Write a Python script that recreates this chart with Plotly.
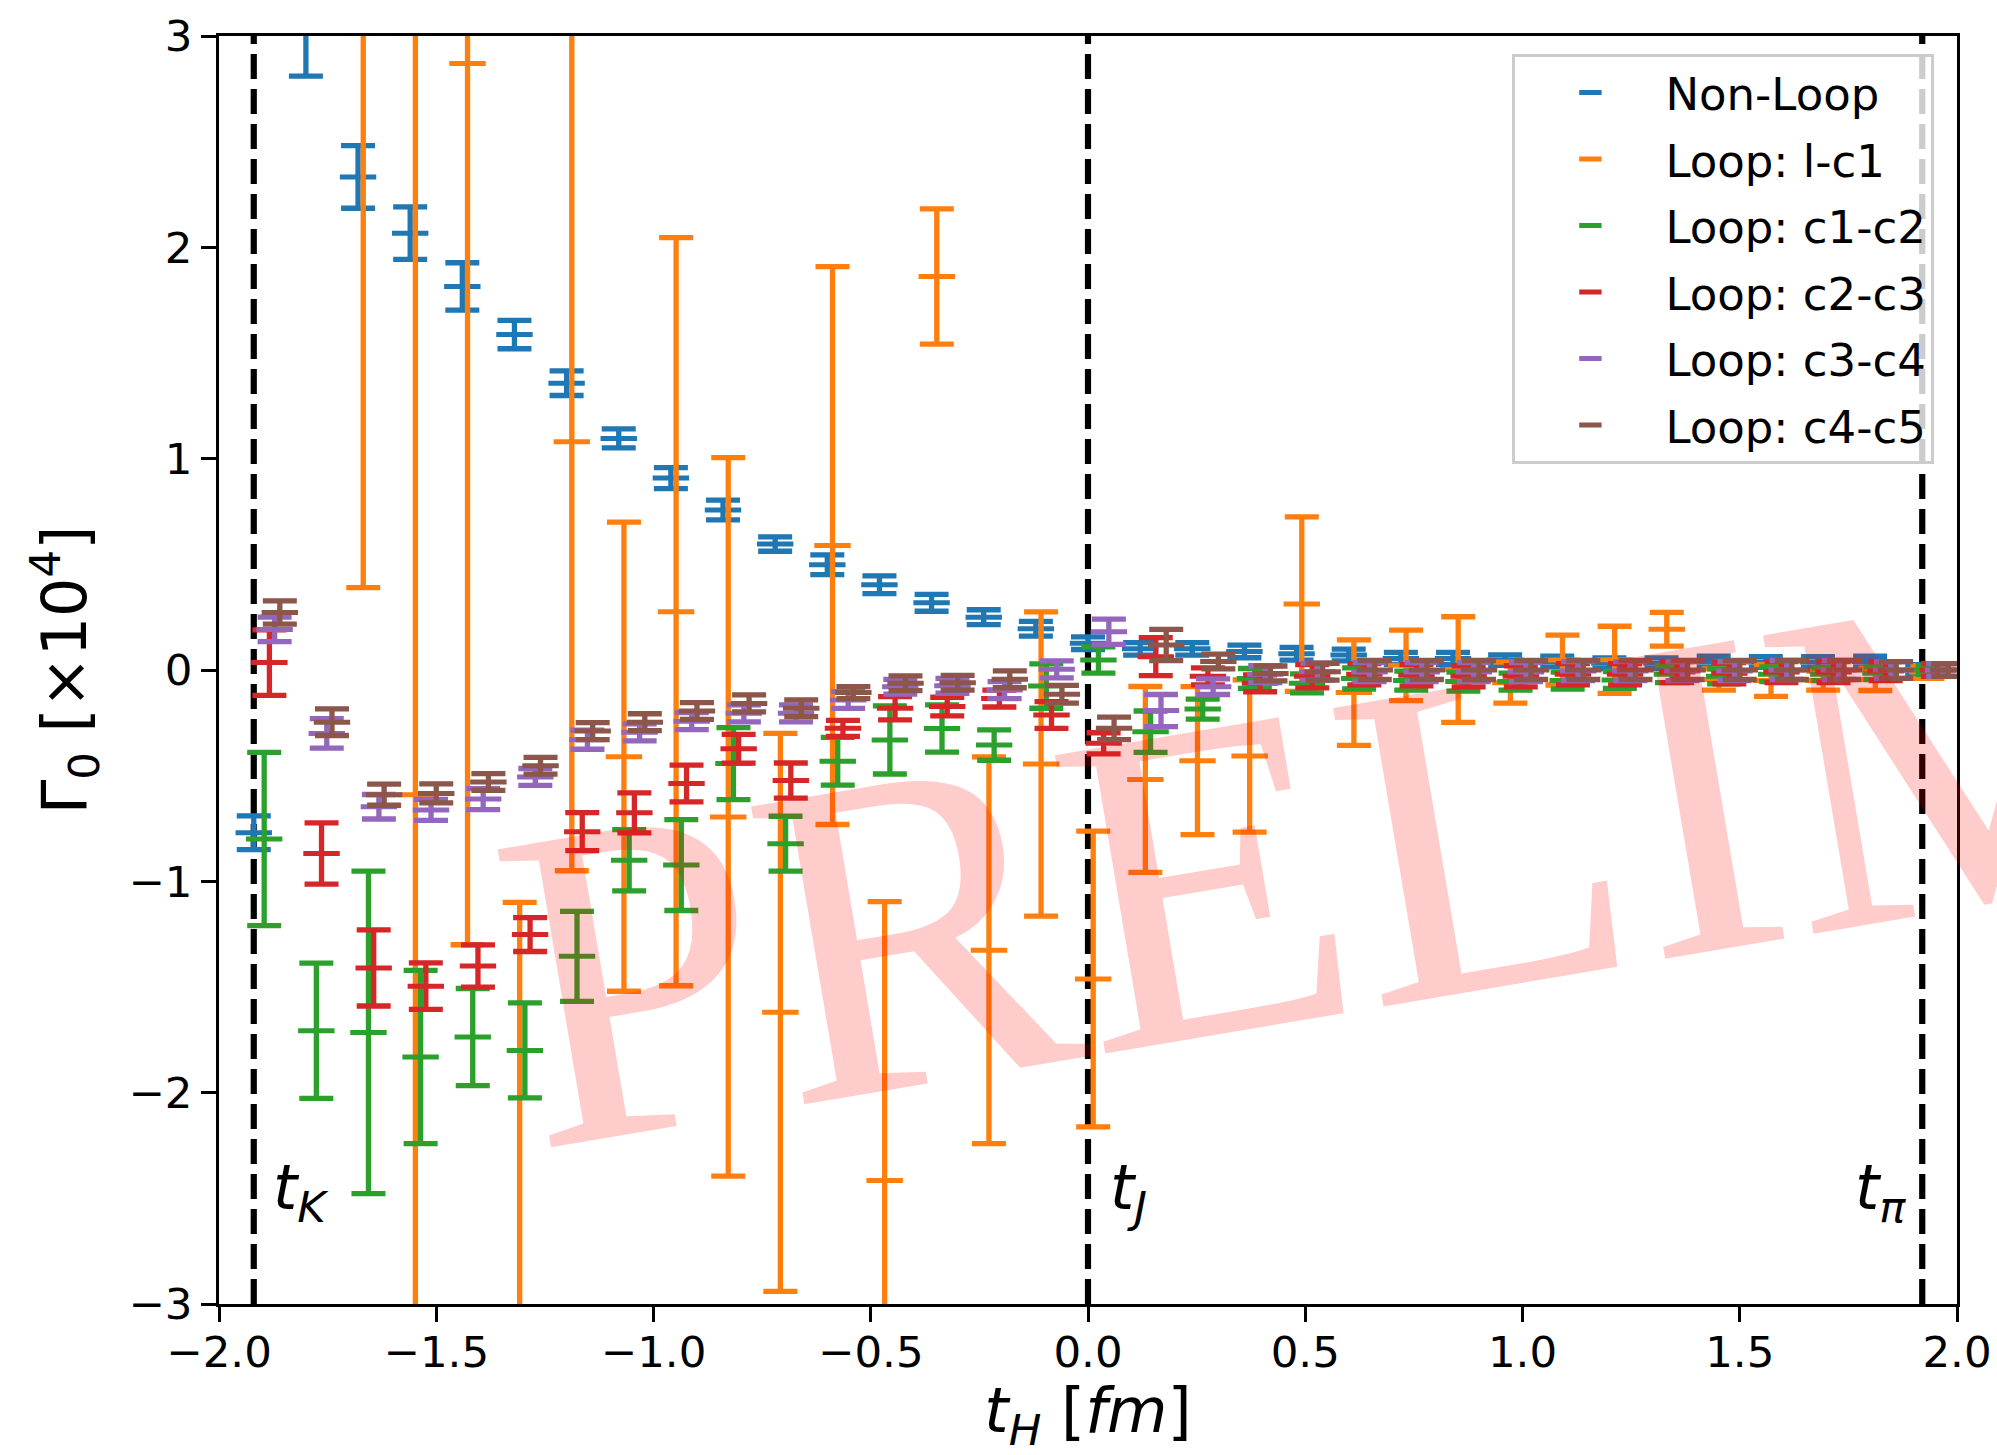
import plotly.graph_objects as go

# ---- data ----
t_H = [-1.92, -1.80, -1.68, -1.56, -1.44, -1.32, -1.20, -1.08, -0.96, -0.84, -0.72,
       -0.60, -0.48, -0.36, -0.24, -0.12, 0.00, 0.12, 0.24, 0.36, 0.48, 0.60, 0.72,
       0.84, 0.96, 1.08, 1.20, 1.32, 1.44, 1.56, 1.68, 1.80, 1.92]

series_names = ["Non-Loop", "Loop: l-c1", "Loop: c1-c2", "Loop: c2-c3", "Loop: c3-c4", "Loop: c4-c5"]

nonloop_val = [-0.77, 3.02, 2.333, 2.067, 1.815, 1.587, 1.357, 1.096, 0.908, 0.757, 0.596,
               0.498, 0.403, 0.318, 0.25, 0.195, 0.127, 0.10, 0.10, 0.088, 0.077, 0.071,
               0.055, 0.055, 0.047, 0.04, 0.032, 0.032, 0.04, 0.038, 0.038, 0.04, 0.0]
nonloop_err = [0.08, 0.21, 0.148, 0.124, 0.112, 0.067, 0.058, 0.045, 0.05, 0.047, 0.034,
               0.047, 0.042, 0.04, 0.035, 0.035, 0.03, 0.03, 0.03, 0.03, 0.03, 0.028,
               0.028, 0.028, 0.025, 0.025, 0.025, 0.025, 0.025, 0.025, 0.025, 0.025, 0.025]

lc1_val = [None, None, 3.55, -0.59, 2.87, -3.3, 1.08, -0.41, 0.276, -0.695, -1.62,
           0.589, -2.416, 1.862, -1.326, -0.445, -1.462, -0.518, -0.429, -0.407, 0.312,
           -0.107, 0.022, 0.002, -0.06, 0.047, 0.048, 0.193, -0.045, -0.05, -0.05, -0.045, -0.01]
lc1_err = [None, None, 3.16, 4.0, 4.17, 2.2, 2.03, 1.11, 1.77, 1.70, 1.32,
           1.32, 1.32, 0.32, 0.915, 0.72, 0.70, 0.44, 0.35, 0.36, 0.413,
           0.25, 0.167, 0.25, 0.097, 0.118, 0.159, 0.08, 0.05, 0.075, 0.045, 0.052, 0.03]

c1c2_val = [-0.80, -1.707, -1.715, -1.831, -1.737, -1.80, -1.355, -0.90, -0.923, -0.443, -0.822,
            -0.432, -0.331, -0.277, -0.355, -0.076, 0.047, -0.292, -0.185, -0.04, -0.063,
            -0.04, -0.05, -0.055, -0.055, -0.05, -0.047, -0.02, -0.03, -0.02, -0.02, -0.015, 0.0]
c1c2_err = [0.41, 0.32, 0.763, 0.41, 0.23, 0.225, 0.213, 0.145, 0.215, 0.17, 0.13,
            0.113, 0.161, 0.112, 0.072, 0.105, 0.062, 0.098, 0.047, 0.047, 0.045,
            0.05, 0.045, 0.045, 0.04, 0.04, 0.04, 0.04, 0.035, 0.035, 0.03, 0.03, 0.02]

c2c3_val = [0.035, -0.868, -1.41, -1.496, -1.401, -1.252, -0.765, -0.676, -0.537, -0.373, -0.523,
            -0.276, -0.181, -0.173, -0.135, -0.213, -0.347, 0.063, -0.03, -0.063, -0.03,
            -0.02, -0.025, -0.03, -0.03, -0.02, -0.02, -0.01, -0.015, -0.01, -0.01, -0.005, 0.0]
c2c3_err = [0.155, 0.145, 0.18, 0.11, 0.10, 0.08, 0.09, 0.095, 0.087, 0.068, 0.083,
            0.038, 0.055, 0.044, 0.04, 0.063, 0.05, 0.09, 0.04, 0.04, 0.055,
            0.05, 0.05, 0.05, 0.05, 0.05, 0.05, 0.05, 0.05, 0.05, 0.05, 0.045, 0.03]

c3c4_val = [0.192, -0.30, -0.647, -0.662, -0.611, -0.506, -0.33, -0.295, -0.242, -0.205, -0.205,
            -0.142, -0.079, -0.075, -0.095, 0.003, 0.181, -0.192, -0.079, -0.02, -0.008,
            -0.01, -0.01, -0.01, -0.01, -0.005, -0.005, -0.005, -0.005, 0.0, 0.0, 0.0, 0.0]
c3c4_err = [0.058, 0.07, 0.058, 0.05, 0.05, 0.04, 0.045, 0.04, 0.04, 0.04, 0.04,
            0.04, 0.035, 0.035, 0.04, 0.04, 0.06, 0.076, 0.037, 0.04, 0.04,
            0.045, 0.045, 0.045, 0.045, 0.045, 0.045, 0.045, 0.045, 0.045, 0.045, 0.04, 0.03]

c4c5_val = [0.272, -0.247, -0.59, -0.584, -0.53, -0.453, -0.289, -0.247, -0.194, -0.158, -0.181,
            -0.107, -0.063, -0.06, -0.044, -0.115, -0.276, 0.118, 0.04, -0.016, -0.008,
            0.0, 0.0, 0.0, 0.0, 0.0, 0.0, 0.0, 0.0, 0.0, 0.0, 0.0, 0.0]
c4c5_err = [0.055, 0.063, 0.05, 0.045, 0.04, 0.04, 0.04, 0.04, 0.04, 0.04, 0.04,
            0.028, 0.035, 0.035, 0.04, 0.042, 0.053, 0.074, 0.035, 0.035, 0.04,
            0.045, 0.045, 0.045, 0.045, 0.045, 0.045, 0.045, 0.045, 0.045, 0.045, 0.04, 0.03]

marker_times = [-1.92, 0.0, 1.92]
marker_labels = ["<i>t</i><sub><i>K</i></sub>", "<i>t</i><sub><i>J</i></sub>", "<i>t</i><sub><i>π</i></sub>"]

# ---- styling ----
colors = ["#1f77b4", "#ff7f0e", "#2ca02c", "#d62728", "#9467bd", "#8c564b"]
dodge = [0.0, 0.012, 0.024, 0.036, 0.048, 0.060]
FONT = "DejaVu Sans"

values = [nonloop_val, lc1_val, c1c2_val, c2c3_val, c3c4_val, c4c5_val]
errors = [nonloop_err, lc1_err, c1c2_err, c2c3_err, c3c4_err, c4c5_err]

fig = go.Figure()

for name, col, off, v, e in zip(series_names, colors, dodge, values, errors):
    fig.add_trace(go.Scatter(
        x=[t + off for t in t_H], y=v, mode="markers", name=name, legendgroup=name,
        marker=dict(symbol="line-ew", size=26, color=col, line=dict(color=col, width=5)),
        error_y=dict(type="data", array=e, visible=True, color=col, thickness=5.3, width=17),
    ))

for tm in marker_times:
    fig.add_shape(type="line", xref="x", yref="y", x0=tm, x1=tm, y0=-3, y1=3,
                  line=dict(color="black", width=6.2, dash="25px,10px"), layer="below")

label_dx = [0.04, 0.045, -0.16]
for tm, lab, dx in zip(marker_times, marker_labels, label_dx):
    fig.add_annotation(x=tm + dx, y=-2.47, xref="x", yref="y", text=lab, showarrow=False,
                       xanchor="left", yanchor="middle",
                       font=dict(family=FONT, size=62, color="black"))

# watermark
fig.add_annotation(text="PRELIMINARY", xref="paper", yref="paper", x=1.055, y=0.449,
                   xanchor="center", yanchor="middle", showarrow=False, textangle=-9.6,
                   font=dict(family="Liberation Serif", size=462, color="rgba(255,0,0,0.2)"))

axis_common = dict(showline=True, linecolor="black", linewidth=3.3, mirror=True,
                   ticks="outside", ticklen=14.6, tickwidth=3.3, tickcolor="black",
                   showgrid=False, zeroline=False, automargin=False,
                   tickfont=dict(family=FONT, size=43.5, color="black"))

fig.update_layout(
    width=1997, height=1455,
    margin=dict(l=219, r=40, t=36, b=151, autoexpand=False),
    paper_bgcolor="white", plot_bgcolor="white",
    font=dict(family=FONT, color="black"),
    xaxis=dict(range=[-2, 2], tick0=0, dtick=0.5, tickformat=".1f",
               ticklabelstandoff=-7,
               title=dict(text="<i>t</i><sub><i>H</i></sub> [<i>fm</i>]",
                          font=dict(family=FONT, size=62), standoff=33),
               **axis_common),
    yaxis=dict(range=[-3, 3], tick0=0, dtick=1,
               title=dict(text="Γ<sub>0</sub> [×10<sup>4</sup>]",
                          font=dict(family=FONT, size=62), standoff=22),
               **axis_common),
    legend=dict(x=0.987, y=0.986, xanchor="right", yanchor="top",
                bgcolor="rgba(255,255,255,0.8)", bordercolor="#cccccc", borderwidth=3,
                font=dict(family=FONT, size=45, color="black"),
                tracegroupgap=5, itemwidth=140),
    showlegend=True,
)

fig.write_html("out.html")
